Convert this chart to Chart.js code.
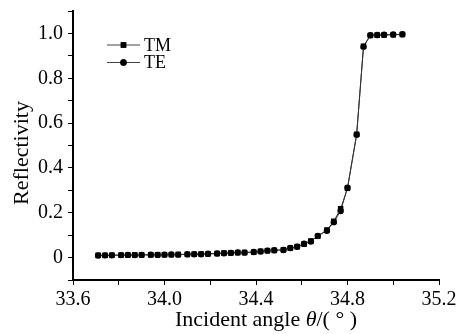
<!DOCTYPE html>
<html>
<head>
<meta charset="utf-8">
<script src="https://cdn.jsdelivr.net/npm/chart.js@4.4.0/dist/chart.umd.min.js"></script>
<style>
  html, body { margin: 0; padding: 0; background: #fff; }
  #chart-box { width: 458px; height: 334px; }
</style>
</head>
<body>
<div id="chart-box"><canvas id="myChart" width="458" height="334"></canvas></div>
<script>
// incident angle (degrees)
const angles = [
  33.71, 33.74, 33.77, 33.81, 33.84, 33.87, 33.90, 33.94, 33.97, 34.00,
  34.03, 34.06, 34.10, 34.13, 34.16, 34.19, 34.23, 34.26, 34.29, 34.32,
  34.35, 34.39, 34.42, 34.45, 34.48, 34.52, 34.55, 34.58, 34.61, 34.64,
  34.67, 34.71, 34.74, 34.77, 34.80, 34.84, 34.87, 34.90, 34.93, 34.96,
  35.00, 35.04
];
const tmValues = [
  0.010, 0.010, 0.011, 0.011, 0.011, 0.012, 0.012, 0.012, 0.013, 0.013,
  0.013, 0.014, 0.014, 0.015, 0.016, 0.016, 0.018, 0.020, 0.021, 0.022,
  0.023, 0.024, 0.028, 0.031, 0.032, 0.035, 0.042, 0.049, 0.060, 0.074,
  0.095, 0.123, 0.162, 0.218, 0.309, 0.550, 0.943, 0.991, 0.992, 0.993,
  0.994, 0.995
];
const teValues = [
  0.009, 0.010, 0.010, 0.011, 0.012, 0.011, 0.012, 0.013, 0.012, 0.013,
  0.014, 0.013, 0.015, 0.015, 0.015, 0.017, 0.018, 0.019, 0.021, 0.023,
  0.022, 0.025, 0.027, 0.031, 0.033, 0.034, 0.043, 0.048, 0.062, 0.072,
  0.097, 0.120, 0.158, 0.208, 0.312, 0.548, 0.940, 0.992, 0.993, 0.994,
  0.995, 0.996
];
const seriesNames = ["TM", "TE"];
const xTickLabels = ["33.6", "34.0", "34.4", "34.8", "35.2"];
const yTickLabels = ["0", "0.2", "0.4", "0.6", "0.8", "1.0"];

const serif = "'Liberation Serif', 'Times New Roman', serif";

// axis titles + legend drawn inside the plot
const annotate = {
  id: 'annotate',
  afterDraw(chart) {
    const ctx = chart.ctx;
    ctx.save();
    ctx.fillStyle = '#000';

    // y title
    ctx.save();
    ctx.font = "22px " + serif;
    ctx.translate(28, 153);
    ctx.rotate(-Math.PI / 2);
    ctx.textAlign = 'center';
    ctx.textBaseline = 'alphabetic';
    ctx.fillText('Reflectivity', 0, 0);
    ctx.restore();

    // x title with italic theta
    const parts = [
      ['Incident angle ', "22px " + serif],
      ['\u03b8', "italic 22px " + serif],
      ['/( \u00b0 )', "22px " + serif]
    ];
    let total = 0;
    parts.forEach(p => { ctx.font = p[1]; total += ctx.measureText(p[0]).width; });
    let x = 266 - total / 2;
    ctx.textAlign = 'left';
    ctx.textBaseline = 'alphabetic';
    parts.forEach(p => {
      ctx.font = p[1];
      ctx.fillText(p[0], x, 326);
      x += ctx.measureText(p[0]).width;
    });

    // legend
    const styles = ['rect', 'circle'];
    seriesNames.forEach((name, i) => {
      const ly = 45 + i * 17.5;
      ctx.strokeStyle = '#444';
      ctx.lineWidth = 1;
      ctx.beginPath();
      ctx.moveTo(107, ly);
      ctx.lineTo(140, ly);
      ctx.stroke();
      Chart.helpers.drawPoint(ctx, {
        pointStyle: styles[i], radius: i === 0 ? 3.9 : 3.2, borderWidth: 0
      }, 123.5, ly);
      ctx.fillStyle = '#000';
      ctx.fill();
      ctx.font = "18px " + serif;
      ctx.textBaseline = 'middle';
      ctx.fillText(name, 144, ly + 1);
    });
    ctx.restore();
  }
};

function makeSeries(values) {
  return angles.map((a, i) => ({ x: a, y: values[i] }));
}

const ctx = document.getElementById('myChart').getContext('2d');
const chart = new Chart(ctx, {
  type: 'line',
  data: {
    datasets: [
      {
        label: seriesNames[0],
        data: makeSeries(tmValues),
        borderColor: '#333',
        borderWidth: 1,
        pointStyle: 'rect',
        pointRadius: 3.9,
        pointBackgroundColor: '#000',
        pointBorderWidth: 0,
        tension: 0
      },
      {
        label: seriesNames[1],
        data: makeSeries(teValues),
        borderColor: '#333',
        borderWidth: 1,
        pointStyle: 'circle',
        pointRadius: 3.2,
        pointBackgroundColor: '#000',
        pointBorderWidth: 0,
        tension: 0
      }
    ]
  },
  options: {
    responsive: false,
    animation: false,
    devicePixelRatio: 1,
    layout: { padding: { left: 0, right: 19, top: 11, bottom: 0 } },
    plugins: {
      legend: { display: false },
      tooltip: { enabled: false }
    },
    scales: {
      x: {
        type: 'linear',
        min: 33.6,
        max: 35.2,
        border: { color: '#000', width: 2 },
        grid: { drawOnChartArea: false, tickLength: 5, tickColor: '#000', tickWidth: 1 },
        ticks: {
          stepSize: 0.2,
          autoSkip: false,
          maxRotation: 0,
          padding: 3,
          color: '#000',
          font: { family: serif, size: 20 },
          callback: function (value) {
            const s = value.toFixed(1);
            return xTickLabels.includes(s) ? s : '';
          }
        },
        afterFit: function (scale) {
          scale.height = 54;
          scale.paddingLeft = 0;
          scale.paddingRight = 0;
        }
      },
      y: {
        min: -0.1,
        max: 1.1,
        border: { color: '#000', width: 2 },
        grid: { drawOnChartArea: false, tickLength: 5, tickColor: '#000', tickWidth: 1 },
        ticks: {
          stepSize: 0.1,
          autoSkip: false,
          padding: 5,
          color: '#000',
          font: { family: serif, size: 20 },
          callback: function (value) {
            let s = value.toFixed(1);
            if (s === '0.0' || s === '-0.0') s = '0';
            return yTickLabels.includes(s) ? s : '';
          }
        },
        afterFit: function (scale) {
          scale.width = 73;
          scale.paddingTop = 0;
          scale.paddingBottom = 0;
        }
      }
    }
  },
  plugins: [annotate]
});
</script>
</body>
</html>
